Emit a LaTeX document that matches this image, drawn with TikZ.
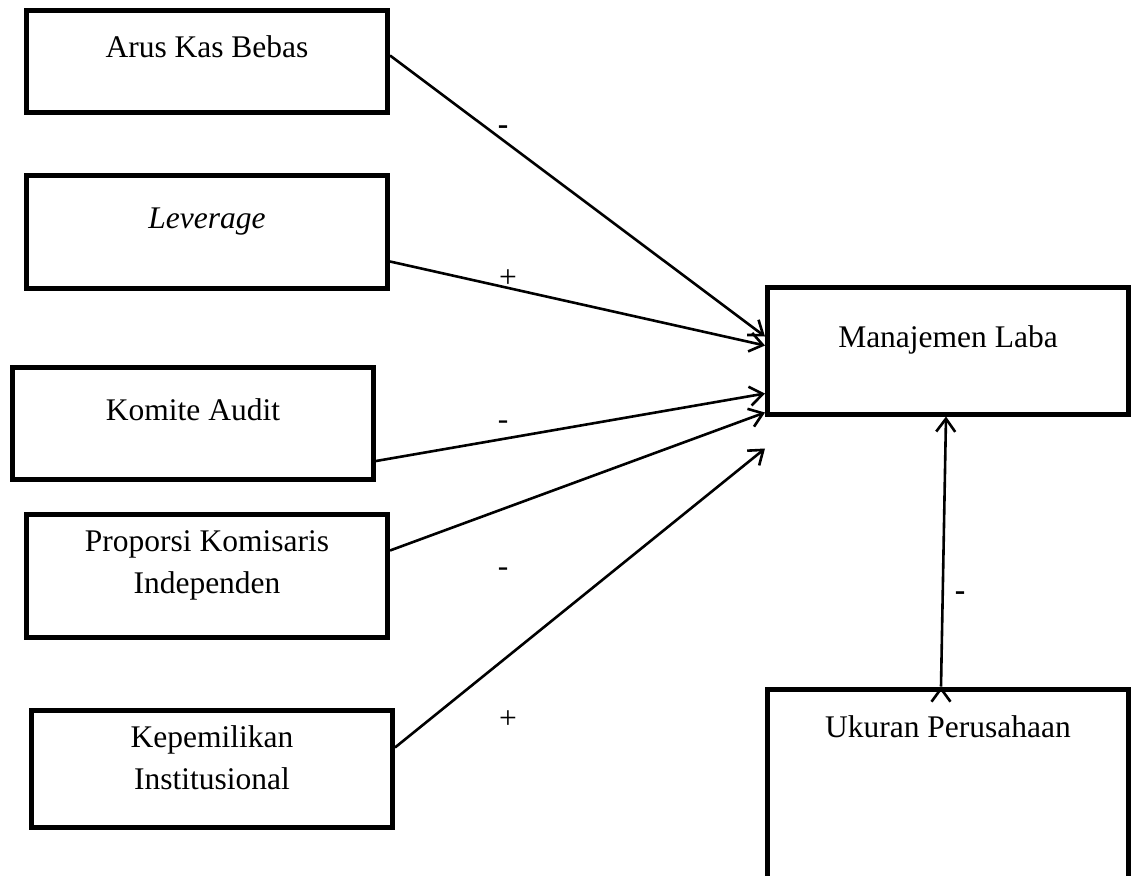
\documentclass[tikz,border=0pt]{standalone}
\usepackage{fontspec}
\setmainfont{Liberation Serif}
\usetikzlibrary{arrows.meta}

\begin{document}
\begin{tikzpicture}[x=1pt, y=-1pt, >={Straight Barb[length=13pt,width=19pt]},
             var/.style = {draw, rectangle, line width=5pt, minimum width=361pt, inner sep=0pt,
                           align=center, anchor=base, font=\fontsize{31.5}{41.5}\selectfont},
            sign/.style = {inner sep=0pt, font=\fontsize{31.5}{41.5}\selectfont},
            link/.style = {->, line width=2.6pt},
]
\clip (0,0) rectangle (1139,875);
\node [var, text height=46pt, text depth=55pt]   (akb)  at (207,57)    {Arus Kas Bebas};
\node [var, text height=53pt, text depth=60pt]   (lev)  at (207,228)   {\textit{Leverage}};
\node [var, text height=53pt, text depth=59pt]   (ka)   at (193,420)   {Komite Audit};
\node [var, text height=79pt, text depth=44pt]   (pki)  at (207,593)   {Proporsi Komisaris\\Independen};
\node [var, text height=79pt, text depth=38pt]   (ki)   at (212,789)   {Kepemilikan\\Institusional};
\node [var, text height=60pt, text depth=67pt]   (ml)   at (948,347)   {Manajemen Laba};
\node [var, text height=48pt, text depth=200pt]  (up)   at (948,737)   {Ukuran Perusahaan};
% signs
\node [sign] (s1) at (503,130) {\textbf{-}};
\node [sign] (s2) at (508,279) {+};
\node [sign] (s3) at (503,425) {-};
\node [sign] (s4) at (503,572) {-};
\node [sign] (s5) at (508,720) {+};
\node [sign] (s6) at (960,596) {\textbf{-}};
%% paths
\path[draw, link] ([yshift=6pt]akb.east)   edge ([yshift=14pt]ml.west)
                  ([yshift=-30pt]lev.east) edge ([yshift=5pt]ml.west)
                  ([yshift=-38pt]ka.east)  edge ([yshift=-43pt]ml.west)
                  ([yshift=25pt]pki.east)  edge ([yshift=-62pt]ml.west)
                  ([yshift=21pt]ki.east)   edge ([yshift=-98pt]ml.west)
                  ([xshift=-7pt]up.north)  edge ([xshift=-2pt]ml.south)
                  ;
\end{tikzpicture}
\end{document}
